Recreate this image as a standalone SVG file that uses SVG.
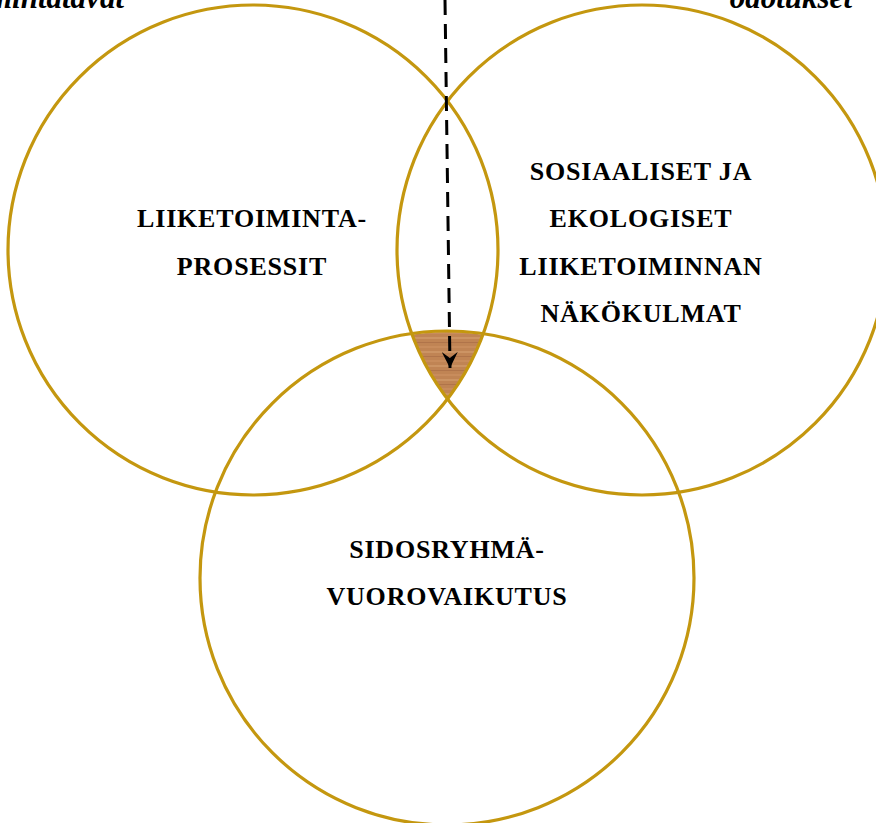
<svg xmlns="http://www.w3.org/2000/svg" width="876" height="823" viewBox="0 0 876 823">
<style>
.ring{fill:none;stroke:#C4970F;stroke-width:3.2}
.lbl{font-family:"Liberation Serif","Times New Roman",serif;font-weight:bold;font-size:26px;fill:#000;text-anchor:middle;letter-spacing:0.8px}
.top{font-family:"Liberation Serif","Times New Roman",serif;font-weight:bold;font-style:italic;font-size:31px;fill:#000}
.conn{stroke:#000;stroke-width:3;stroke-dasharray:15 9;fill:none}
</style>
<defs>
<pattern id="wood" patternUnits="userSpaceOnUse" width="80" height="14">
<rect width="80" height="14" fill="#C08454"/>
<rect y="1" width="80" height="2" fill="#CC9464"/>
<rect y="6" width="80" height="1" fill="#B0744A"/>
<rect y="10" width="80" height="2" fill="#C88C5C"/>
</pattern>
<clipPath id="cL"><circle cx="253" cy="250" r="245"/></clipPath>
<clipPath id="cR"><circle cx="642" cy="250" r="245"/></clipPath>
<marker id="arr" viewBox="0 0 16 16" refX="16" refY="8" markerWidth="16" markerHeight="16" markerUnits="userSpaceOnUse" orient="auto">
<path d="M0,0 L16,8 L0,16 L6,8 Z" fill="#000"/>
</marker>
</defs>
<g id="overlap" clip-path="url(#cL)">
<circle cx="447" cy="578" r="246" fill="url(#wood)" clip-path="url(#cR)"/>
</g>
<g id="node-processes">
<circle class="ring" cx="253" cy="250" r="245"/>
<text class="lbl" x="252" y="227">LIIKETOIMINTA-</text>
<text class="lbl" x="252" y="275">PROSESSIT</text>
</g>
<g id="node-social">
<circle class="ring" cx="642" cy="250" r="245"/>
<text class="lbl" x="641" y="180">SOSIAALISET JA</text>
<text class="lbl" x="641" y="227">EKOLOGISET</text>
<text class="lbl" x="641" y="275">LIIKETOIMINNAN</text>
<text class="lbl" x="641" y="322">NÄKÖKULMAT</text>
</g>
<g id="node-stakeholder">
<circle class="ring" cx="447" cy="578" r="247"/>
<text class="lbl" x="447" y="558">SIDOSRYHMÄ-</text>
<text class="lbl" x="447" y="605">VUOROVAIKUTUS</text>
</g>
<g id="top-labels">
<text class="top" x="124" y="8" text-anchor="end">toimintatavat</text>
<text class="top" x="852" y="8" text-anchor="end">odotukset</text>
</g>
<g id="connectors">
<line class="conn" x1="445" y1="0" x2="450" y2="368" marker-end="url(#arr)"/>
</g>
</svg>
